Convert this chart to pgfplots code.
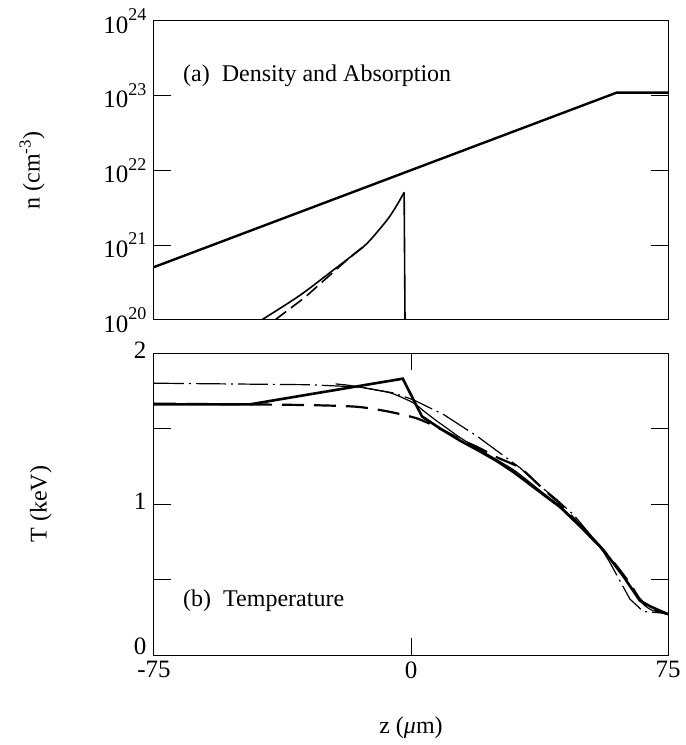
\documentclass[border=0pt]{standalone}
\usepackage{fontspec}
\setmainfont{Liberation Serif}
\usepackage{pgfplots}
\pgfplotsset{compat=1.18}
\newcommand{\tp}[1]{10\raisebox{0.5em}{\fontsize{18}{18}\selectfont #1}}
\begin{document}
\begin{tikzpicture}
\useasboundingbox (-154pt,21pt) rectangle (532pt,-724pt);
\pgfplotsset{
  myax/.style={
    scale only axis, width=514pt,
    xmin=-75, xmax=75,
    axis line style={line width=1pt},
    every tick/.style={black, line width=1pt},
    major tick length=17pt, minor tick length=17pt,
    tick align=inside,
    ticklabel style={font=\fontsize{25}{28}\selectfont},
    label style={font=\fontsize{24}{28}\selectfont},
    yticklabel style={xshift=-4pt},
    xticklabel style={yshift=-3pt},
    /pgf/number format/assume math mode=true,
    clip=true,
  }
}
\begin{axis}[myax, at={(0pt,0pt)}, anchor=north west, height=299pt,
  ymode=log, ymin=1e20, ymax=1e24,
  xtick=\empty,
  ytick={1e20,1e21,1e22,1e23,1e24},
  yticklabels={\tp{20},\tp{21},\tp{22},\tp{23},\tp{24}},
  yminorticks=false,
  ylabel={n (cm\textsuperscript{-3})},
  ylabel style={at={(axis description cs:-0.237,0.5)}, anchor=center, rotate=0},
]
\addplot[black, line width=2.4pt] coordinates {(-75,5.1e20) (60,1.1e23) (75,1.1e23)};
\addplot[black, line width=1.6pt, smooth, tension=0.5] coordinates {(-43.6,1e20) (-32.4,2.14e20) (-22.6,4.68e20) (-17.8,6.9e20) (-12.9,1.05e21) (-7.1,2.14e21) (-4.2,3.39e21) (-2.0,5.1e21)};
\addplot[black, line width=1.6pt] coordinates {(-2.0,5.1e21) (-1.75,1e20)};
\addplot[black, line width=1.6pt, dash pattern=on 14pt off 6pt] coordinates {(-39.7,1e20) (-31,2.0e20) (-23.1,4.2e20) (-17.8,6.9e20) (-14,9.5e20)};
\node[anchor=west, font=\fontsize{24}{28}\selectfont] at (axis cs:-67.5,1.86e23) {(a)\ \ Density and Absorption};
\end{axis}
\begin{axis}[myax, at={(0pt,-332pt)}, anchor=north west, height=302pt,
  ymin=0, ymax=2,
  xtick={-75,0,75}, xticklabels={-75,0,75},
  ytick={1,2}, yticklabels={1,2},
  yticklabel style={yshift=3pt},
  extra y ticks={0}, extra y tick labels={0},
  extra y tick style={yticklabel style={yshift=6pt}},
  minor ytick={0.5,1.5},
  ylabel={T (keV)},
  ylabel style={at={(axis description cs:-0.22,0.5)}, anchor=center, rotate=0},
  xlabel={z (\textit{μ}m)},
  xlabel style={at={(axis description cs:0.5,-0.24)}, anchor=center},
]
% thick solid
\addplot[black, line width=2.6pt] coordinates {(-75,1.66) (-47,1.66) (-2.4,1.83) (3.2,1.58) (8.5,1.50) (14.3,1.42) (20,1.35) (25,1.285) (30,1.21) (37.6,1.08) (43.5,0.98) (49,0.86) (55.2,0.717) (58,0.64) (62,0.52) (66.8,0.36) (70,0.32) (75,0.27)};
% thin solid
\addplot[black, line width=1.2pt, smooth, tension=0.4] coordinates {(-22,1.795) (-17.8,1.785) (-9,1.75) (-5.2,1.73) (0.7,1.67) (3.5,1.62) (6.5,1.567) (10,1.51) (14.3,1.44) (20,1.36) (30,1.225) (37.6,1.09) (43.5,0.985) (49,0.87) (55.2,0.72) (58,0.64) (62,0.52) (66.8,0.36) (70,0.30) (75,0.27)};
% thick dashed
\addplot[black, line width=2.2pt, dash pattern=on 22pt off 10pt, smooth, tension=0.4] coordinates {(-75,1.665) (-32.4,1.656) (-15.8,1.644) (-6.1,1.61) (1.7,1.567) (7.5,1.51) (14.3,1.43) (20,1.37) (25,1.31) (31.8,1.24) (37.6,1.12) (43.5,1.0) (49,0.87) (55.2,0.72) (60,0.59) (64,0.47) (66.8,0.37) (70,0.31) (75,0.27)};
% thin dash-dot
\addplot[black, line width=1.2pt, dash pattern=on 30pt off 5pt on 2pt off 5pt] coordinates {(-75,1.80) (-30,1.79) (-15,1.775) (-5,1.735) (0.7,1.69) (9.7,1.59) (19.4,1.447) (31.8,1.24) (37.6,1.12) (42.5,1.03) (47.4,0.93) (55.2,0.72) (58.1,0.61) (63.9,0.37) (67.8,0.288) (75,0.275)};
\node[anchor=west, font=\fontsize{24}{28}\selectfont] at (axis cs:-67.5,0.36) {(b)\ \ Temperature};
\end{axis}
\end{tikzpicture}
\end{document}
